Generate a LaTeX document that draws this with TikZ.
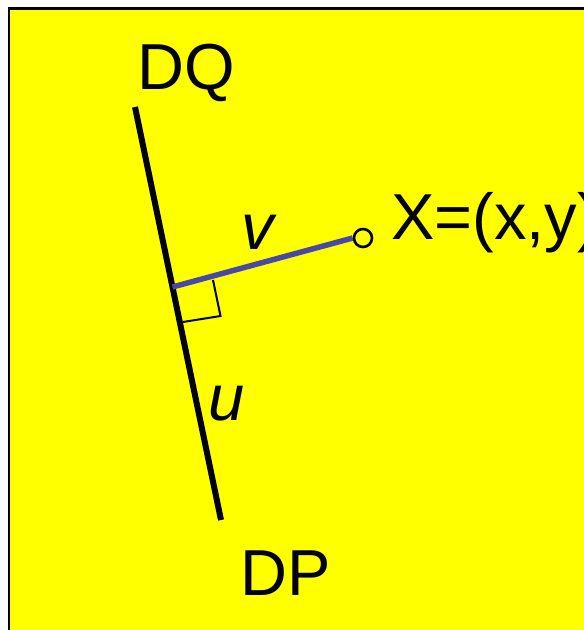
\documentclass[tikz,border=0pt]{standalone}
\usepackage{fontspec}
\setmainfont{Liberation Sans}
\definecolor{bgyellow}{RGB}{255,255,0}
\definecolor{vblue}{RGB}{72,72,170}
\tikzset{
  lbl/.style={inner sep=0pt, font=\fontsize{65}{78}\selectfont},
  ilbl/.style={inner sep=0pt, font=\fontsize{65}{78}\selectfont\itshape},
  pt/.style={circle, draw=black, line width=2.6pt, fill=bgyellow, minimum size=18pt, inner sep=0pt},
}
\begin{document}
\begin{tikzpicture}[x=1pt,y=-1pt]
\clip (0,0) rectangle (584,630);
\fill[white] (0,0) rectangle (584,630);
\draw[fill=bgyellow, line width=2.5pt] (9,8.5) rectangle (700,700);
% main line
\coordinate (Q) at (135,107);
\coordinate (P) at (221,520);
\coordinate (F) at (172.5,287);
\draw[line width=6pt] (Q) -- (P);
% right angle mark
\coordinate (R1) at (213,280);
\coordinate (R2) at (220.5,316);
\coordinate (R3) at (183,322);
\draw[line width=2pt] (R1) -- (R2) -- (R3);
% point X
\node[pt] (X) at (363,238) {};
\draw[vblue, line width=5.5pt] (F) -- (X.west);
% labels
\node[lbl, anchor=base] (dq) at (186,89) {DQ};
\node[lbl, anchor=base] (dp) at (286,595) {DP};
\node[lbl, anchor=base west] (xl) at (391,239) {X=(x,y)};
\node[ilbl, anchor=base] (v) at (258,249) {v};
\node[ilbl, anchor=base] (u) at (227,420) {u};
\end{tikzpicture}
\end{document}
